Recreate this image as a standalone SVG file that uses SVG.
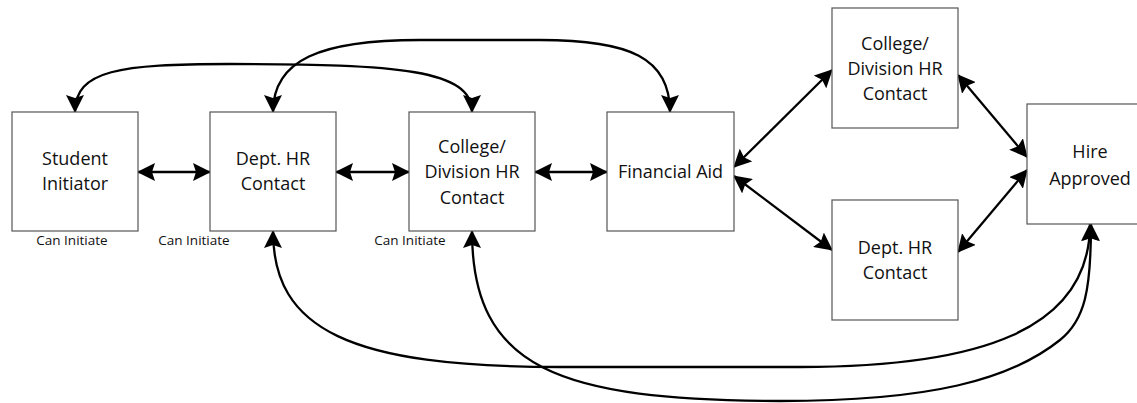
<svg xmlns="http://www.w3.org/2000/svg" width="1137" height="403" viewBox="0 0 1137 403">
  <defs>
    <marker id="arr" markerUnits="userSpaceOnUse" markerWidth="18" markerHeight="18" refX="17" refY="9" orient="auto-start-reverse" viewBox="0 0 18 18">
      <path d="M0,0 L18,9 L0,18 L3,9 Z" fill="#000"/>
    </marker>
  </defs>
  <style>
    .box { fill: #fff; stroke: #555; stroke-width: 1.2; }
    .lbl { font-family: "Open Sans", "Noto Sans", sans-serif; font-size: 18px; fill: #111; text-anchor: middle; }
    .small { font-family: "Open Sans", "Noto Sans", sans-serif; font-size: 13.5px; fill: #111; text-anchor: middle; }
    .con { fill: none; stroke: #000; stroke-width: 2.3; marker-start: url(#arr); marker-end: url(#arr); }
  </style>
  <rect width="1137" height="403" fill="#fff"/>

  <g id="connectors">
    <line class="con" x1="138" y1="172" x2="210" y2="172"/>
    <line class="con" x1="336" y1="172" x2="409" y2="172"/>
    <line class="con" x1="535" y1="172" x2="607" y2="172"/>
    <line class="con" x1="734" y1="167" x2="832" y2="70"/>
    <line class="con" x1="734" y1="176" x2="832" y2="250"/>
    <line class="con" x1="958" y1="75" x2="1027" y2="157"/>
    <line class="con" x1="958" y1="252" x2="1027" y2="170"/>
    <path class="con" d="M75,112 C75,70 120,64 230,64 C400,64 472,70 472,112"/>
    <path class="con" d="M273,112 C273,60 320,40 420,40 L540,40 C630,40 670,58 670,112"/>
    <path class="con" d="M273,231 C273,330 350,367 560,367 L800,367 C980,367 1090,330 1090,224"/>
    <path class="con" d="M472,231 C472,370 560,400 780,401 C930,401 1010,380 1060,340 C1085,320 1091,290 1091,224"/>
  </g>

  <g id="student-initiator">
    <rect class="box" x="12" y="112" width="126" height="119"/>
    <text class="lbl" x="75" y="164.5">Student</text>
    <text class="lbl" x="75" y="190">Initiator</text>
  </g>
  <g id="dept-hr-contact">
    <rect class="box" x="210" y="112" width="126" height="119"/>
    <text class="lbl" x="273" y="164.5">Dept. HR</text>
    <text class="lbl" x="273" y="190">Contact</text>
  </g>
  <g id="college-division-hr-contact">
    <rect class="box" x="409" y="112" width="126" height="119"/>
    <text class="lbl" x="472" y="153">College/</text>
    <text class="lbl" x="472" y="178">Division HR</text>
    <text class="lbl" x="472" y="203.5">Contact</text>
  </g>
  <g id="financial-aid">
    <rect class="box" x="607" y="112" width="127" height="119"/>
    <text class="lbl" x="670.5" y="178">Financial Aid</text>
  </g>
  <g id="college-division-hr-contact-2">
    <rect class="box" x="832" y="8" width="126" height="120"/>
    <text class="lbl" x="895" y="49.5">College/</text>
    <text class="lbl" x="895" y="74.5">Division HR</text>
    <text class="lbl" x="895" y="99.5">Contact</text>
  </g>
  <g id="dept-hr-contact-2">
    <rect class="box" x="832" y="200" width="126" height="120"/>
    <text class="lbl" x="895" y="254">Dept. HR</text>
    <text class="lbl" x="895" y="279">Contact</text>
  </g>
  <g id="hire-approved">
    <rect class="box" x="1027" y="104" width="126" height="120"/>
    <text class="lbl" x="1090" y="158">Hire</text>
    <text class="lbl" x="1090" y="184.5">Approved</text>
  </g>

  <g id="labels">
    <text class="small" x="72" y="245">Can Initiate</text>
    <text class="small" x="194" y="245">Can Initiate</text>
    <text class="small" x="410" y="245">Can Initiate</text>
  </g>
</svg>
